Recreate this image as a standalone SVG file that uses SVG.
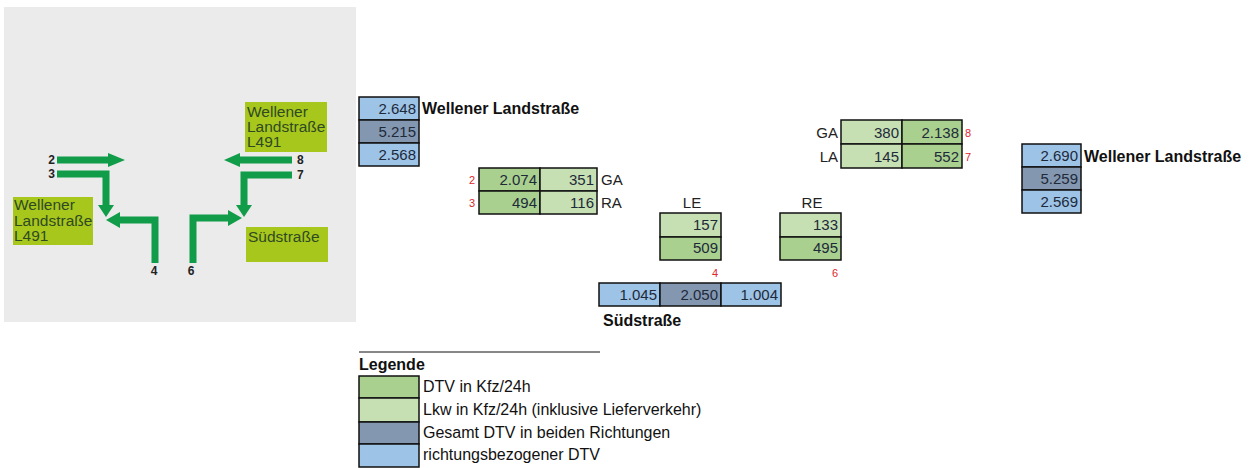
<svg xmlns="http://www.w3.org/2000/svg" width="1251" height="468" viewBox="0 0 1251 468">
<style>
.bg{fill:#ebebeb}
.box{fill:#a8c71d}
.bt{font-family:"Liberation Sans",Arial,sans-serif;font-size:15.5px;fill:#2f4a22}
.arr{stroke:#109c48;stroke-width:7;fill:none;stroke-linejoin:miter;stroke-linecap:butt}
.ah{fill:#109c48}
.al{font-family:"Liberation Sans",Arial,sans-serif;font-size:12px;font-weight:bold;fill:#222}
.c{stroke:#111;stroke-width:1.5}
.b{fill:#9dc3e6}
.g{fill:#8497b0}
.d{fill:#a9d08e}
.l{fill:#c6e0b4}
.n{font-family:"Liberation Sans",Arial,sans-serif;font-size:15px;fill:#1e2a3a;text-anchor:end}
.t{font-family:"Liberation Sans",Arial,sans-serif;font-size:15px;fill:#222}
.h{font-family:"Liberation Sans",Arial,sans-serif;font-size:16px;font-weight:bold;fill:#111}
.r{font-family:"Liberation Sans",Arial,sans-serif;font-size:11px;fill:#e0262b}
.lg{font-family:"Liberation Sans",Arial,sans-serif;font-size:16px;fill:#111}
</style>

<g id="map">
<rect class="bg" x="4" y="7" width="352" height="315"/>
<g id="box-wellener-right"><rect class="box" x="245" y="102" width="82" height="50"/>
<text class="bt" x="247" y="117">Wellener</text><text class="bt" x="247" y="132">Landstraße</text><text class="bt" x="247" y="147">L491</text></g>
<g id="box-wellener-left"><rect class="box" x="13" y="197" width="80" height="48"/>
<text class="bt" x="14" y="210">Wellener</text><text class="bt" x="14" y="226">Landstraße</text><text class="bt" x="14" y="241">L491</text></g>
<g id="box-sued"><rect class="box" x="246" y="227" width="82" height="35"/>
<text class="bt" x="248" y="242">Südstraße</text></g>
<g id="arrows">
<polyline class="arr" points="57,160 109,160"/><polygon class="ah" points="108,153 125,160 108,167"/>
<polyline class="arr" points="57,174 106,174 106,206"/><polygon class="ah" points="98,205 114,205 106,217"/>
<polyline class="arr" points="155,263 155,220 119,220"/><polygon class="ah" points="120,212 106,220 120,228"/>
<polyline class="arr" points="193,263 193,218 229,218"/><polygon class="ah" points="228,210 242,218 228,226"/>
<polyline class="arr" points="292,160 239,160"/><polygon class="ah" points="240,153 224,160 240,167"/>
<polyline class="arr" points="292,175 244,175 244,206"/><polygon class="ah" points="236,205 252,205 244,217"/>
</g>
<g id="arrow-labels">
<text class="al" x="55" y="164" text-anchor="end">2</text>
<text class="al" x="55" y="178" text-anchor="end">3</text>
<text class="al" x="154" y="275" text-anchor="middle">4</text>
<text class="al" x="191" y="275" text-anchor="middle">6</text>
<text class="al" x="297" y="164">8</text>
<text class="al" x="297" y="179">7</text>
</g>
</g>

<g id="wellener-west">
<rect class="b c" x="359" y="97" width="60" height="23"/>
<rect class="g c" x="359" y="120" width="60" height="23"/>
<rect class="b c" x="359" y="143" width="60" height="23"/>
<text class="n" x="416" y="114">2.648</text>
<text class="n" x="416" y="137">5.215</text>
<text class="n" x="416" y="160">2.568</text>
<text class="h" x="422" y="114">Wellener Landstraße</text>
</g>

<g id="arm-2-3">
<rect class="d c" x="479" y="168" width="61" height="23"/>
<rect class="l c" x="540" y="168" width="57" height="23"/>
<rect class="d c" x="479" y="191" width="61" height="23"/>
<rect class="l c" x="540" y="191" width="57" height="23"/>
<text class="n" x="537" y="185">2.074</text>
<text class="n" x="594" y="185">351</text>
<text class="n" x="537" y="208">494</text>
<text class="n" x="594" y="208">116</text>
<text class="r" x="472" y="184" text-anchor="middle">2</text>
<text class="r" x="472" y="207" text-anchor="middle">3</text>
<text class="t" x="601" y="185">GA</text>
<text class="t" x="601" y="208">RA</text>
</g>

<g id="arm-LE">
<text class="t" x="692" y="208" text-anchor="middle">LE</text>
<rect class="l c" x="660" y="213" width="61" height="24"/>
<rect class="d c" x="660" y="237" width="61" height="23"/>
<text class="n" x="718" y="230">157</text>
<text class="n" x="718" y="253">509</text>
<text class="r" x="715" y="277" text-anchor="middle">4</text>
</g>

<g id="arm-RE">
<text class="t" x="812" y="208" text-anchor="middle">RE</text>
<rect class="l c" x="780" y="213" width="61" height="24"/>
<rect class="d c" x="780" y="237" width="61" height="23"/>
<text class="n" x="838" y="230">133</text>
<text class="n" x="838" y="253">495</text>
<text class="r" x="835" y="277" text-anchor="middle">6</text>
</g>

<g id="suedstrasse">
<rect class="b c" x="599" y="283" width="61" height="23"/>
<rect class="g c" x="660" y="283" width="61" height="23"/>
<rect class="b c" x="721" y="283" width="60" height="23"/>
<text class="n" x="657" y="300">1.045</text>
<text class="n" x="718" y="300">2.050</text>
<text class="n" x="778" y="300">1.004</text>
<text class="h" x="603" y="326">Südstraße</text>
</g>

<g id="arm-7-8">
<rect class="l c" x="841" y="120" width="61" height="24"/>
<rect class="d c" x="902" y="120" width="60" height="24"/>
<rect class="l c" x="841" y="144" width="61" height="24"/>
<rect class="d c" x="902" y="144" width="60" height="24"/>
<text class="n" x="899" y="138">380</text>
<text class="n" x="959" y="138">2.138</text>
<text class="n" x="899" y="162">145</text>
<text class="n" x="959" y="162">552</text>
<text class="t" x="838" y="138" text-anchor="end">GA</text>
<text class="t" x="838" y="162" text-anchor="end">LA</text>
<text class="r" x="965" y="137">8</text>
<text class="r" x="965" y="161">7</text>
</g>

<g id="wellener-east">
<rect class="b c" x="1022" y="144" width="59" height="23"/>
<rect class="g c" x="1022" y="167" width="59" height="23"/>
<rect class="b c" x="1022" y="190" width="59" height="23"/>
<text class="n" x="1078" y="161">2.690</text>
<text class="n" x="1078" y="184">5.259</text>
<text class="n" x="1078" y="207">2.569</text>
<text class="h" x="1084" y="162">Wellener Landstraße</text>
</g>

<g id="legend">
<line x1="359" y1="352" x2="600" y2="352" stroke="#111" stroke-width="1"/>
<text class="h" x="359" y="370">Legende</text>
<rect class="d c" x="359" y="376" width="60" height="22"/>
<rect class="l c" x="359" y="398" width="60" height="24"/>
<rect class="g c" x="359" y="422" width="60" height="22"/>
<rect class="b c" x="359" y="444" width="60" height="23"/>
<text class="lg" x="423" y="392">DTV in Kfz/24h</text>
<text class="lg" x="423" y="415">Lkw in Kfz/24h (inklusive Lieferverkehr)</text>
<text class="lg" x="423" y="438">Gesamt DTV in beiden Richtungen</text>
<text class="lg" x="423" y="460">richtungsbezogener DTV</text>
</g>
</svg>
